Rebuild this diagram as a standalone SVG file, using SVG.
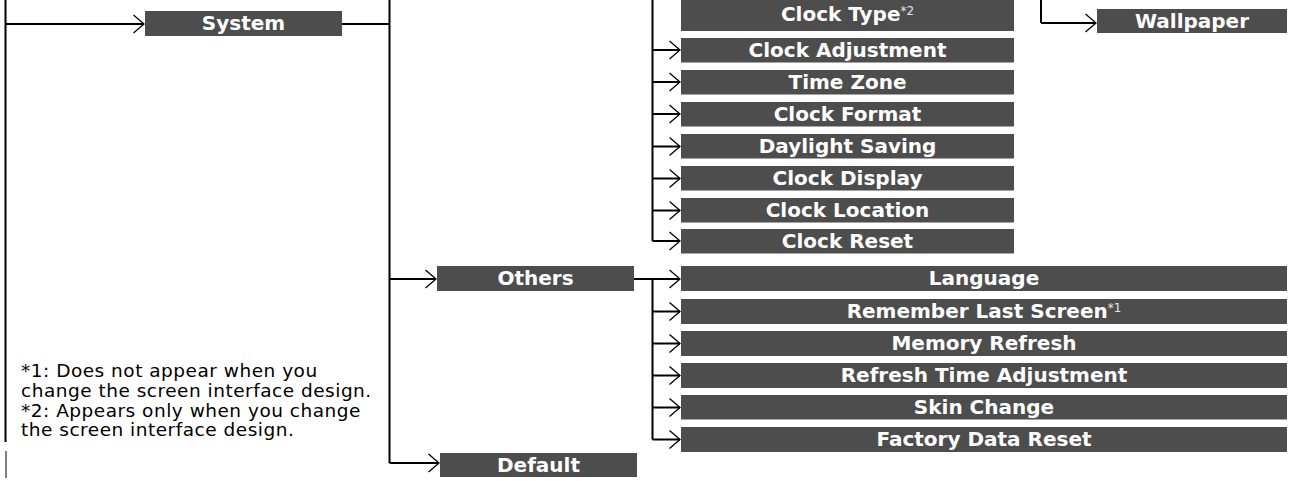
<svg xmlns="http://www.w3.org/2000/svg" width="1292" height="481" viewBox="0 0 1292 481">
<style>
.box{fill:#4d4d4d}
.lbl{font-family:"DejaVu Sans","Liberation Sans",sans-serif;font-weight:bold;font-size:20px;fill:#fff;text-anchor:middle}
.sup{font-weight:normal;font-size:12px;fill:#e6e6e6}
.ln{stroke:#000;stroke-width:2;fill:none}
.arr{stroke:#000;stroke-width:2;fill:none;marker-end:url(#chev)}
.note{font-family:"DejaVu Sans","Liberation Sans",sans-serif;font-size:18.5px;letter-spacing:0.5px;fill:#000}
</style>
<defs>
<marker id="chev" markerUnits="userSpaceOnUse" viewBox="-12 -10 13 20" refX="0" refY="0" markerWidth="13" markerHeight="20" orient="auto">
<path d="M-10.5,-9 L0,0 L-10.5,9" fill="none" stroke="#000" stroke-width="1.3"/>
</marker>
</defs>
<rect width="1292" height="481" fill="#fff"/>
<g id="connectors">
<path class="ln" d="M5.5,0 V442"/>
<path d="M6,451 V478" stroke="#555" stroke-width="1.5" fill="none"/>
<path class="arr" d="M5.5,24 H144"/>
<path class="ln" d="M342,24 H389.5"/>
<path class="ln" d="M389.5,0 V463"/>
<path class="arr" d="M389.5,279 H436"/>
<path class="arr" d="M389.5,463 H439"/>
<path class="ln" d="M634,279 H652.5 V439.5"/>
<path class="ln" d="M652.5,0 V241"/>
<path class="arr" d="M652.5,50 H680"/>
<path class="arr" d="M652.5,82 H680"/>
<path class="arr" d="M652.5,114 H680"/>
<path class="arr" d="M652.5,146.5 H680"/>
<path class="arr" d="M652.5,178.5 H680"/>
<path class="arr" d="M652.5,210.5 H680"/>
<path class="arr" d="M652.5,241 H680"/>
<path class="arr" d="M652.5,279 H680"/>
<path class="arr" d="M652.5,311.5 H680"/>
<path class="arr" d="M652.5,343.5 H680"/>
<path class="arr" d="M652.5,375.5 H680"/>
<path class="arr" d="M652.5,407.5 H680"/>
<path class="arr" d="M652.5,439.5 H680"/>
<path class="ln" d="M1041,0 V23"/>
<path class="arr" d="M1041,23 H1096"/>
</g>
<g id="system"><rect class="box" x="145" y="11" width="197" height="25"/><text class="lbl" x="243.5" y="30">System</text></g>
<g id="others"><rect class="box" x="437" y="266" width="197" height="25"/><text class="lbl" x="535.5" y="285">Others</text></g>
<g id="default"><rect class="box" x="440" y="453" width="197" height="24"/><text class="lbl" x="538.5" y="472">Default</text></g>
<g id="clock-type"><rect class="box" x="681" y="-10" width="333" height="41"/><text class="lbl" x="847.5" y="21">Clock Type<tspan class="sup" dy="-6">*2</tspan></text></g>
<g id="wallpaper"><rect class="box" x="1097" y="9" width="190" height="24"/><text class="lbl" x="1192" y="27.5">Wallpaper</text></g>
<g id="clock-adjustment"><rect class="box" x="681" y="38" width="333" height="24.5"/><text class="lbl" x="847.5" y="57">Clock Adjustment</text></g>
<g id="time-zone"><rect class="box" x="681" y="70" width="333" height="24.5"/><text class="lbl" x="847.5" y="89">Time Zone</text></g>
<g id="clock-format"><rect class="box" x="681" y="102" width="333" height="24.5"/><text class="lbl" x="847.5" y="121">Clock Format</text></g>
<g id="daylight-saving"><rect class="box" x="681" y="134" width="333" height="24.5"/><text class="lbl" x="847.5" y="153">Daylight Saving</text></g>
<g id="clock-display"><rect class="box" x="681" y="166" width="333" height="24.5"/><text class="lbl" x="847.5" y="185">Clock Display</text></g>
<g id="clock-location"><rect class="box" x="681" y="198" width="333" height="24.5"/><text class="lbl" x="847.5" y="217">Clock Location</text></g>
<g id="clock-reset"><rect class="box" x="681" y="229" width="333" height="24.5"/><text class="lbl" x="847.5" y="248">Clock Reset</text></g>
<g id="language"><rect class="box" x="681" y="266" width="606" height="25"/><text class="lbl" x="984" y="285">Language</text></g>
<g id="remember-last-screen"><rect class="box" x="681" y="299" width="606" height="25"/><text class="lbl" x="984" y="318">Remember Last Screen<tspan class="sup" dy="-6">*1</tspan></text></g>
<g id="memory-refresh"><rect class="box" x="681" y="331" width="606" height="25"/><text class="lbl" x="984" y="350">Memory Refresh</text></g>
<g id="refresh-time-adjustment"><rect class="box" x="681" y="363" width="606" height="25"/><text class="lbl" x="984" y="382">Refresh Time Adjustment</text></g>
<g id="skin-change"><rect class="box" x="681" y="395" width="606" height="24.5"/><text class="lbl" x="984" y="414">Skin Change</text></g>
<g id="factory-data-reset"><rect class="box" x="681" y="427" width="606" height="25"/><text class="lbl" x="984" y="446">Factory Data Reset</text></g>
<g id="footnotes">
<text class="note" x="21" y="377">*1: Does not appear when you<tspan x="21" y="396.5">change the screen interface design.</tspan></text>
<text class="note" x="21" y="417">*2: Appears only when you change<tspan x="21" y="436">the screen interface design.</tspan></text>
</g>
</svg>
